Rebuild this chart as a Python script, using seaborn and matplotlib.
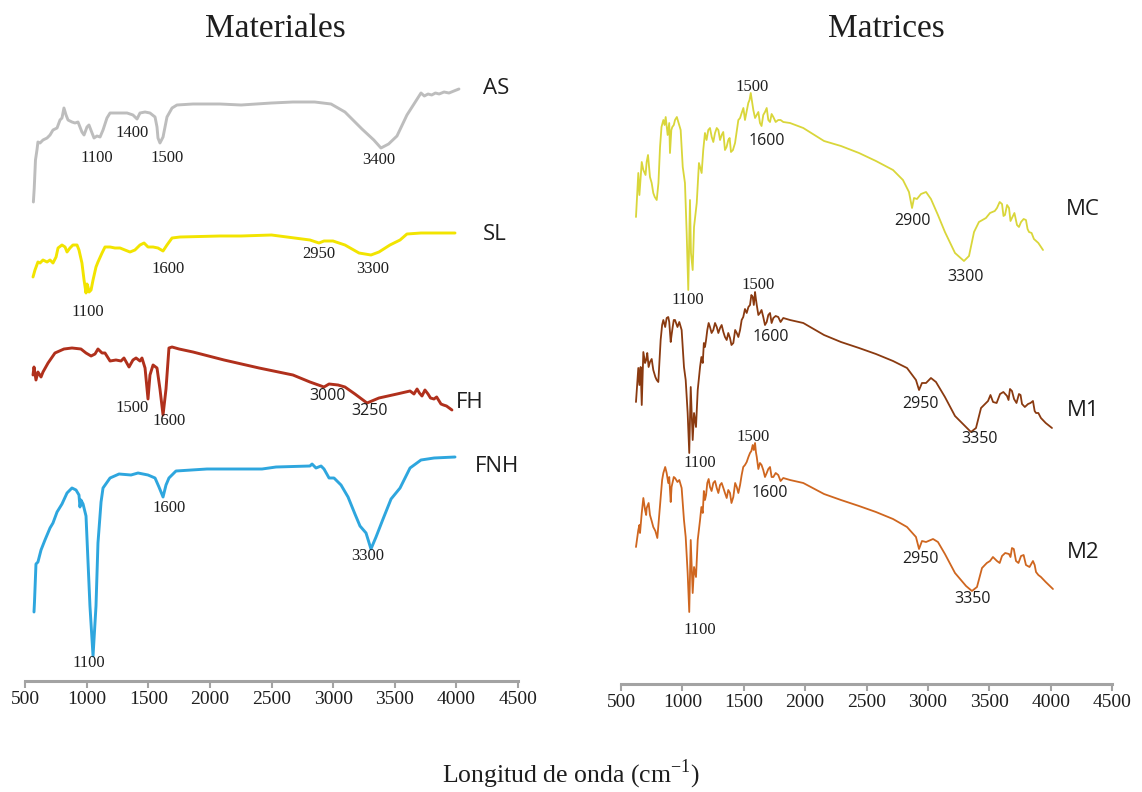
import matplotlib
matplotlib.use("Agg")
import matplotlib.pyplot as plt
import pandas as pd
import seaborn as sns

# ---------------------------------------------------------------
# FTIR spectra: wavenumber (cm-1) and relative transmittance (a.u.)
# ---------------------------------------------------------------
AS_wn = [568, 575, 585, 597, 605, 622, 646, 679, 703, 727, 760, 784, 800, 816, 833,
         849, 881, 906, 930, 962, 979, 1003, 1019, 1044, 1060, 1084, 1109, 1133, 1165, 1190,
         1246, 1328, 1376, 1409, 1433, 1474, 1514, 1555, 1571, 1579, 1595, 1620, 1652, 1693, 1733,
         1863, 2082, 2253, 2500, 2674, 2850, 2983, 3096, 3234, 3330, 3388, 3450, 3518, 3599, 3713,
         3740, 3770, 3800, 3830, 3860, 3900, 3940, 3980, 4021]
AS_t = [0, 14, 42, 52, 60, 59, 62, 64, 67, 72, 74, 82, 84, 94, 87,
        82, 80, 79, 80, 70, 67, 75, 77, 69, 64, 66, 65, 72, 84, 89,
        89, 89, 87, 83, 89, 90, 89, 85, 75, 64, 59, 65, 85, 94, 97,
        98, 98, 97, 99, 100, 100, 98, 90, 73, 62, 54, 58, 66, 87, 109,
        106, 108, 107, 109, 108, 110, 109, 111, 113]

SL_wn = [565, 581, 605, 622, 646, 679, 703, 727, 752, 768, 800, 825, 841, 865, 889,
         922, 938, 962, 979, 995, 1003, 1011, 1020, 1036, 1052, 1076, 1092, 1125, 1149, 1190,
         1230, 1271, 1311, 1352, 1392, 1433, 1466, 1498, 1539, 1579, 1620, 1652, 1693, 1758, 2082,
         2253, 2500, 2812, 2885, 2926, 2999, 3096, 3210, 3307, 3372, 3461, 3543, 3599, 3713, 3850,
         3989]
SL_t = [18, 25, 33, 32, 35, 33, 35, 32, 38, 47, 50, 48, 43, 47, 50,
        50, 45, 32, 15, 2, 11, 8, 3, 5, 15, 28, 33, 42, 48, 48,
        47, 47, 45, 43, 45, 50, 52, 48, 48, 47, 44, 50, 57, 58, 59,
        59, 60, 55, 52, 54, 54, 50, 42, 40, 43, 50, 55, 61, 62, 62,
        62]

FH_wn = [565, 573, 589, 605, 630, 646, 687, 743, 816, 881, 954, 995, 1036, 1068, 1092,
         1125, 1149, 1190, 1238, 1279, 1303, 1344, 1376, 1401, 1433, 1449, 1474, 1498, 1514, 1539,
         1571, 1595, 1620, 1644, 1668, 1693, 1750, 1863, 2115, 2399, 2674, 2812, 2926, 2967, 3040,
         3096, 3177, 3275, 3372, 3518, 3624, 3656, 3681, 3700, 3721, 3745, 3770, 3790, 3818, 3840,
         3875, 3895, 3920, 3964]
FH_t = [45, 53, 40, 48, 43, 48, 57, 67, 71, 72, 71, 67, 64, 66, 71,
        67, 67, 59, 60, 59, 62, 53, 60, 62, 59, 62, 52, 21, 45, 55,
        52, 31, 5, 31, 72, 73, 71, 68, 60, 52, 45, 38, 33, 36, 35,
        33, 26, 17, 22, 26, 29, 26, 31, 27, 24, 30, 26, 22, 21, 23,
        16, 15, 14, 10]

FNH_wn = [573, 577, 589, 605, 630, 662, 703, 727, 760, 800, 841, 881, 914, 938, 946,
          954, 971, 995, 1011, 1027, 1052, 1076, 1092, 1117, 1133, 1190, 1263, 1360, 1417, 1498,
          1555, 1587, 1620, 1644, 1668, 1725, 1977, 2423, 2537, 2812, 2829, 2861, 2902, 2926, 2967,
          3007, 3064, 3121, 3177, 3218, 3267, 3307, 3348, 3405, 3470, 3543, 3624, 3713, 3819, 3989]
FNH_t = [48, 58, 96, 98, 110, 120, 132, 137, 148, 156, 167, 172, 170, 165, 153,
         160, 156, 144, 99, 54, 4, 54, 117, 158, 172, 182, 186, 185, 187, 185,
         182, 173, 163, 175, 182, 189, 191, 191, 193, 194, 196, 192, 194, 191, 182,
         182, 175, 163, 146, 134, 127, 111, 123, 141, 161, 172, 192, 200, 202, 203]

MC_wn = [622, 641, 669, 682, 709, 736, 763, 791, 818, 845, 864, 893, 899, 918, 940,
         967, 986, 1003, 1021, 1035, 1048, 1062, 1070, 1084, 1095, 1117, 1135, 1157, 1184, 1211,
         1239, 1266, 1293, 1320, 1347, 1374, 1396, 1429, 1456, 1483, 1510, 1537, 1557, 1578, 1606,
         1632, 1659, 1687, 1714, 1741, 1781, 1822, 1877, 1985, 2154, 2292, 2439, 2577, 2716, 2797,
         2846, 2871, 2887, 2911, 2944, 2985, 3025, 3082, 3139, 3221, 3294, 3335, 3376, 3416, 3473,
         3506, 3563, 3604, 3628, 3661, 3685, 3726, 3759, 3799, 3824, 3864, 3938]
MC_t = [78, 122, 133, 125, 133, 118, 102, 95, 148, 175, 178, 172, 142, 168, 175,
        173, 165, 128, 112, 62, 5, 95, 42, 25, 68, 92, 132, 122, 162, 165,
        158, 162, 165, 160, 145, 155, 143, 152, 175, 182, 175, 192, 202, 185, 180,
        172, 180, 187, 173, 178, 175, 173, 172, 167, 154, 149, 142, 134, 125, 115,
        103, 87, 97, 96, 101, 103, 96, 80, 63, 42, 34, 39, 63, 73, 77,
        82, 87, 91, 80, 87, 77, 70, 73, 75, 63, 56, 45]
# finer readings in the noisy fingerprint and O-H regions
MC_wn_fine = [650, 700, 720, 750, 775, 805, 830, 855, 880, 910, 930, 955,
              1170, 1197, 1225, 1252, 1280, 1307, 1333, 1360, 1385, 1412, 1442, 1470, 1497,
              1523, 1547, 1568, 1592, 1619, 1645, 1673, 1700, 1727, 1760, 1800,
              3545, 3585, 3616, 3645, 3673, 3705, 3742, 3780, 3812, 3845, 3900]
MC_t_fine = [100, 120, 140, 112, 98, 112, 168, 170, 160, 165, 170, 178,
             145, 155, 167, 153, 167, 155, 163, 148, 157, 145, 163, 177, 187,
             183, 195, 193, 177, 183, 169, 183, 175, 181, 173, 175,
             84, 93, 79, 90, 74, 82, 68, 76, 66, 62, 52]

M1_wn = [622, 641, 660, 669, 682, 696, 714, 736, 763, 791, 804, 823, 845, 872, 893,
         905, 921, 940, 975, 994, 1013, 1027, 1043, 1056, 1068, 1084, 1095, 1111, 1125, 1144,
         1166, 1184, 1203, 1225, 1252, 1280, 1307, 1334, 1361, 1388, 1415, 1443, 1470, 1496, 1524,
         1551, 1573, 1592, 1606, 1632, 1659, 1687, 1714, 1741, 1781, 1822, 1877, 1985, 2154, 2292,
         2439, 2577, 2716, 2830, 2903, 2928, 2952, 2985, 3025, 3066, 3139, 3221, 3311, 3351, 3392,
         3433, 3490, 3531, 3588, 3645, 3669, 3702, 3742, 3767, 3816, 3856, 3881, 3921, 4011]
M1_t = [53, 87, 88, 50, 103, 92, 102, 93, 85, 75, 73, 115, 135, 137, 133,
        113, 128, 135, 133, 125, 88, 75, 42, 2, 68, 15, 42, 28, 65, 88,
        92, 108, 125, 128, 125, 128, 127, 123, 115, 117, 112, 122, 125, 138, 142,
        150, 158, 163, 150, 142, 138, 133, 142, 137, 138, 137, 135, 132, 120, 113,
        107, 101, 94, 87, 75, 65, 72, 72, 77, 73, 58, 39, 28, 23, 27,
        47, 54, 53, 61, 59, 66, 56, 61, 51, 51, 54, 42, 37, 27]
M1_wn_fine = [650, 705, 725, 750, 780, 835, 860, 885, 912, 930, 960,
              1155, 1175, 1193, 1214, 1238, 1266, 1293, 1320, 1347, 1374, 1400, 1430, 1456, 1483,
              1510, 1538, 1562, 1582, 1599, 1619, 1645, 1673, 1700, 1727, 1760, 1800,
              3510, 3560, 3615, 3657, 3685, 3722, 3755, 3790, 3836, 3870, 3900, 3960]
M1_t_fine = [70, 95, 88, 96, 78, 130, 128, 138, 120, 135, 128,
             98, 112, 115, 132, 122, 132, 122, 130, 118, 122, 110, 125, 118, 135,
             146, 148, 160, 150, 156, 140, 145, 130, 140, 132, 139, 133,
             60, 52, 63, 55, 64, 52, 60, 48, 52, 44, 42, 32]

M2_wn = [622, 641, 655, 669, 682, 696, 709, 736, 763, 796, 823, 845, 872, 893, 905,
         921, 940, 975, 994, 1013, 1027, 1043, 1056, 1068, 1084, 1095, 1111, 1125, 1144, 1166,
         1184, 1203, 1225, 1252, 1280, 1307, 1334, 1361, 1388, 1415, 1443, 1470, 1496, 1524, 1551,
         1573, 1592, 1606, 1632, 1659, 1687, 1714, 1741, 1781, 1822, 1877, 1985, 2154, 2292, 2439,
         2577, 2716, 2830, 2903, 2928, 2952, 2985, 3042, 3082, 3139, 3221, 3311, 3359, 3400, 3441,
         3506, 3563, 3604, 3661, 3685, 3718, 3759, 3799, 3856, 3881, 3921, 4019]
M2_t = [68, 85, 82, 102, 117, 105, 107, 100, 88, 77, 118, 142, 142, 138, 113,
        133, 137, 135, 127, 95, 78, 42, 3, 75, 22, 48, 38, 75, 95, 102,
        115, 132, 128, 132, 127, 130, 127, 117, 122, 118, 128, 130, 148, 153, 162,
        170, 172, 158, 152, 145, 142, 148, 138, 140, 137, 135, 132, 121, 115, 109,
        103, 96, 88, 78, 66, 74, 73, 76, 73, 61, 42, 29, 24, 28, 47,
        54, 54, 59, 61, 67, 54, 59, 50, 54, 43, 38, 26]
M2_wn_fine = [650, 705, 725, 750, 780, 835, 860, 885, 912, 930, 960,
              1155, 1175, 1193, 1214, 1238, 1266, 1293, 1320, 1347, 1374, 1400, 1430, 1456, 1483,
              1510, 1538, 1562, 1582, 1599, 1619, 1645, 1673, 1700, 1727, 1760, 1800,
              3480, 3530, 3585, 3630, 3673, 3700, 3738, 3780, 3828, 3870, 3900, 3960]
M2_t_fine = [90, 100, 112, 94, 84, 135, 148, 132, 128, 138, 133,
             108, 124, 120, 136, 124, 134, 122, 132, 122, 125, 112, 132, 122, 140,
             150, 158, 164, 165, 163, 146, 150, 138, 146, 138, 142, 134,
             52, 58, 52, 62, 58, 66, 52, 60, 48, 50, 40, 33]

X_TICKS = [500, 1000, 1500, 2000, 2500, 3000, 3500, 4000, 4500]

SERIF = "Liberation Serif"
SANS = "Open Sans"
TXT = "#1e1e1e"
AXIS_GREY = "#a3a3a3"

sns.set_theme(style="white")
plt.rcParams["font.family"] = [SERIF, "DejaVu Serif"]
plt.rcParams["mathtext.fontset"] = "custom"
plt.rcParams["mathtext.rm"] = SERIF

fig = plt.figure(figsize=(11.42, 7.92), dpi=100)
W, H = 1142.0, 792.0
ax_l = fig.add_axes([25 / W, 1 - 681 / H, 493 / W, 641 / H])
ax_r = fig.add_axes([621 / W, 1 - 684 / H, 491 / W, 644 / H])


def spectrum(wn, t, wn_fine=(), t_fine=()):
    df = pd.DataFrame({"wn": list(wn) + list(wn_fine), "t": list(t) + list(t_fine)})
    return df.sort_values("wn", kind="stable").reset_index(drop=True)


# stacking offsets (vertical shift of each trace) and colours
left_traces = [
    (spectrum(AS_wn, AS_t), 479, "#bdbdbd"),
    (spectrum(SL_wn, SL_t), 386, "#f2e400"),
    (spectrum(FH_wn, FH_t), 261, "#b0301c"),
    (spectrum(FNH_wn, FNH_t), 21, "#2ea6de"),
]
right_traces = [
    (spectrum(MC_wn, MC_t, MC_wn_fine, MC_t_fine), 389, "#d9d63a"),
    (spectrum(M1_wn, M1_t, M1_wn_fine, M1_t_fine), 229, "#8a3a10"),
    (spectrum(M2_wn, M2_t, M2_wn_fine, M2_t_fine), 69, "#cf661f"),
]


def draw(ax, traces, lw):
    for df, off, col in traces:
        df = df.assign(y=df["t"] + off)
        sns.lineplot(data=df, x="wn", y="y", ax=ax, color=col, linewidth=lw,
                     sort=False, estimator=None, legend=False)


def style(ax, top):
    ax.set_xlim(500, 4500)
    ax.set_ylim(0, top)
    ax.set_xticks(X_TICKS)
    ax.set_xticklabels([str(v) for v in X_TICKS])
    ax.set_yticks([])
    ax.set_xlabel("")
    ax.set_ylabel("")
    for s in ("top", "right", "left"):
        ax.spines[s].set_visible(False)
    ax.spines["bottom"].set_color(AXIS_GREY)
    ax.spines["bottom"].set_linewidth(2.2)
    ax.tick_params(axis="x", direction="out", length=5, width=1.5, color=AXIS_GREY,
                   labelsize=14, labelcolor=TXT, pad=2.5, bottom=True)
    for lab in ax.get_xticklabels():
        lab.set_fontfamily(SERIF)
    ax.patch.set_alpha(0)


draw(ax_l, left_traces, 2.1)
draw(ax_r, right_traces, 1.3)
style(ax_l, 641)
style(ax_r, 644)

# peak annotations: (text, wavenumber position, height, font)
left_notes = [
    ("1100", 1084, 523, SERIF), ("1400", 1368, 548, SERIF), ("1500", 1652, 523, SERIF),
    ("3400", 3372, 521, SERIF),
    ("1100", 1011, 369, SERIF), ("1600", 1660, 412, SERIF), ("2950", 2885, 427, SERIF),
    ("3300", 3324, 412, SERIF),
    ("1500", 1368, 273, SERIF), ("1600", 1668, 260, SERIF), ("3000", 2958, 285, SANS),
    ("3250", 3299, 270, SANS),
    ("1100", 1019, 18, SERIF), ("1600", 1668, 173, SERIF), ("3300", 3283, 125, SERIF),
]
right_notes = [
    ("1500", 1567, 597, SERIF), ("1600", 1689, 543, SANS), ("2900", 2871, 463, SANS),
    ("3300", 3311, 407, SANS), ("1100", 1046, 384, SERIF),
    ("1500", 1616, 399, SERIF), ("1600", 1722, 347, SANS), ("2950", 2936, 280, SANS),
    ("3350", 3425, 245, SANS), ("1100", 1144, 221, SERIF),
    ("1500", 1575, 247, SERIF), ("1600", 1714, 191, SANS), ("2950", 2936, 125, SANS),
    ("3350", 3368, 85, SANS), ("1100", 1144, 54, SERIF),
]
for ax, notes in ((ax_l, left_notes), (ax_r, right_notes)):
    for txt, x, y, fam in notes:
        ax.text(x, y, txt, ha="center", va="center", fontsize=12 if fam == SERIF else 11.5,
                family=fam, color=TXT)

# sample names
for ax, name, x, y in ((ax_l, "AS", 4322, 593), (ax_l, "SL", 4313, 446), (ax_l, "FH", 4111, 278),
                       (ax_l, "FNH", 4330, 214), (ax_r, "MC", 4264, 475), (ax_r, "M1", 4264, 274),
                       (ax_r, "M2", 4264, 132)):
    ax.text(x, y, name, ha="center", va="center", fontsize=16, family=SANS, color=TXT)

fig.text(275 / W, 1 - 29 / H, "Materiales", ha="center", va="center", fontsize=24,
         family=SERIF, color=TXT)
fig.text(886 / W, 1 - 29 / H, "Matrices", ha="center", va="center", fontsize=24,
         family=SERIF, color=TXT)
fig.text(571 / W, 1 - 774 / H, r"Longitud de onda (cm$^{\mathregular{-1}}$)", ha="center",
         va="center", fontsize=18.5, family=SERIF, color=TXT)

fig.savefig("out.png", dpi=100, facecolor="white")
